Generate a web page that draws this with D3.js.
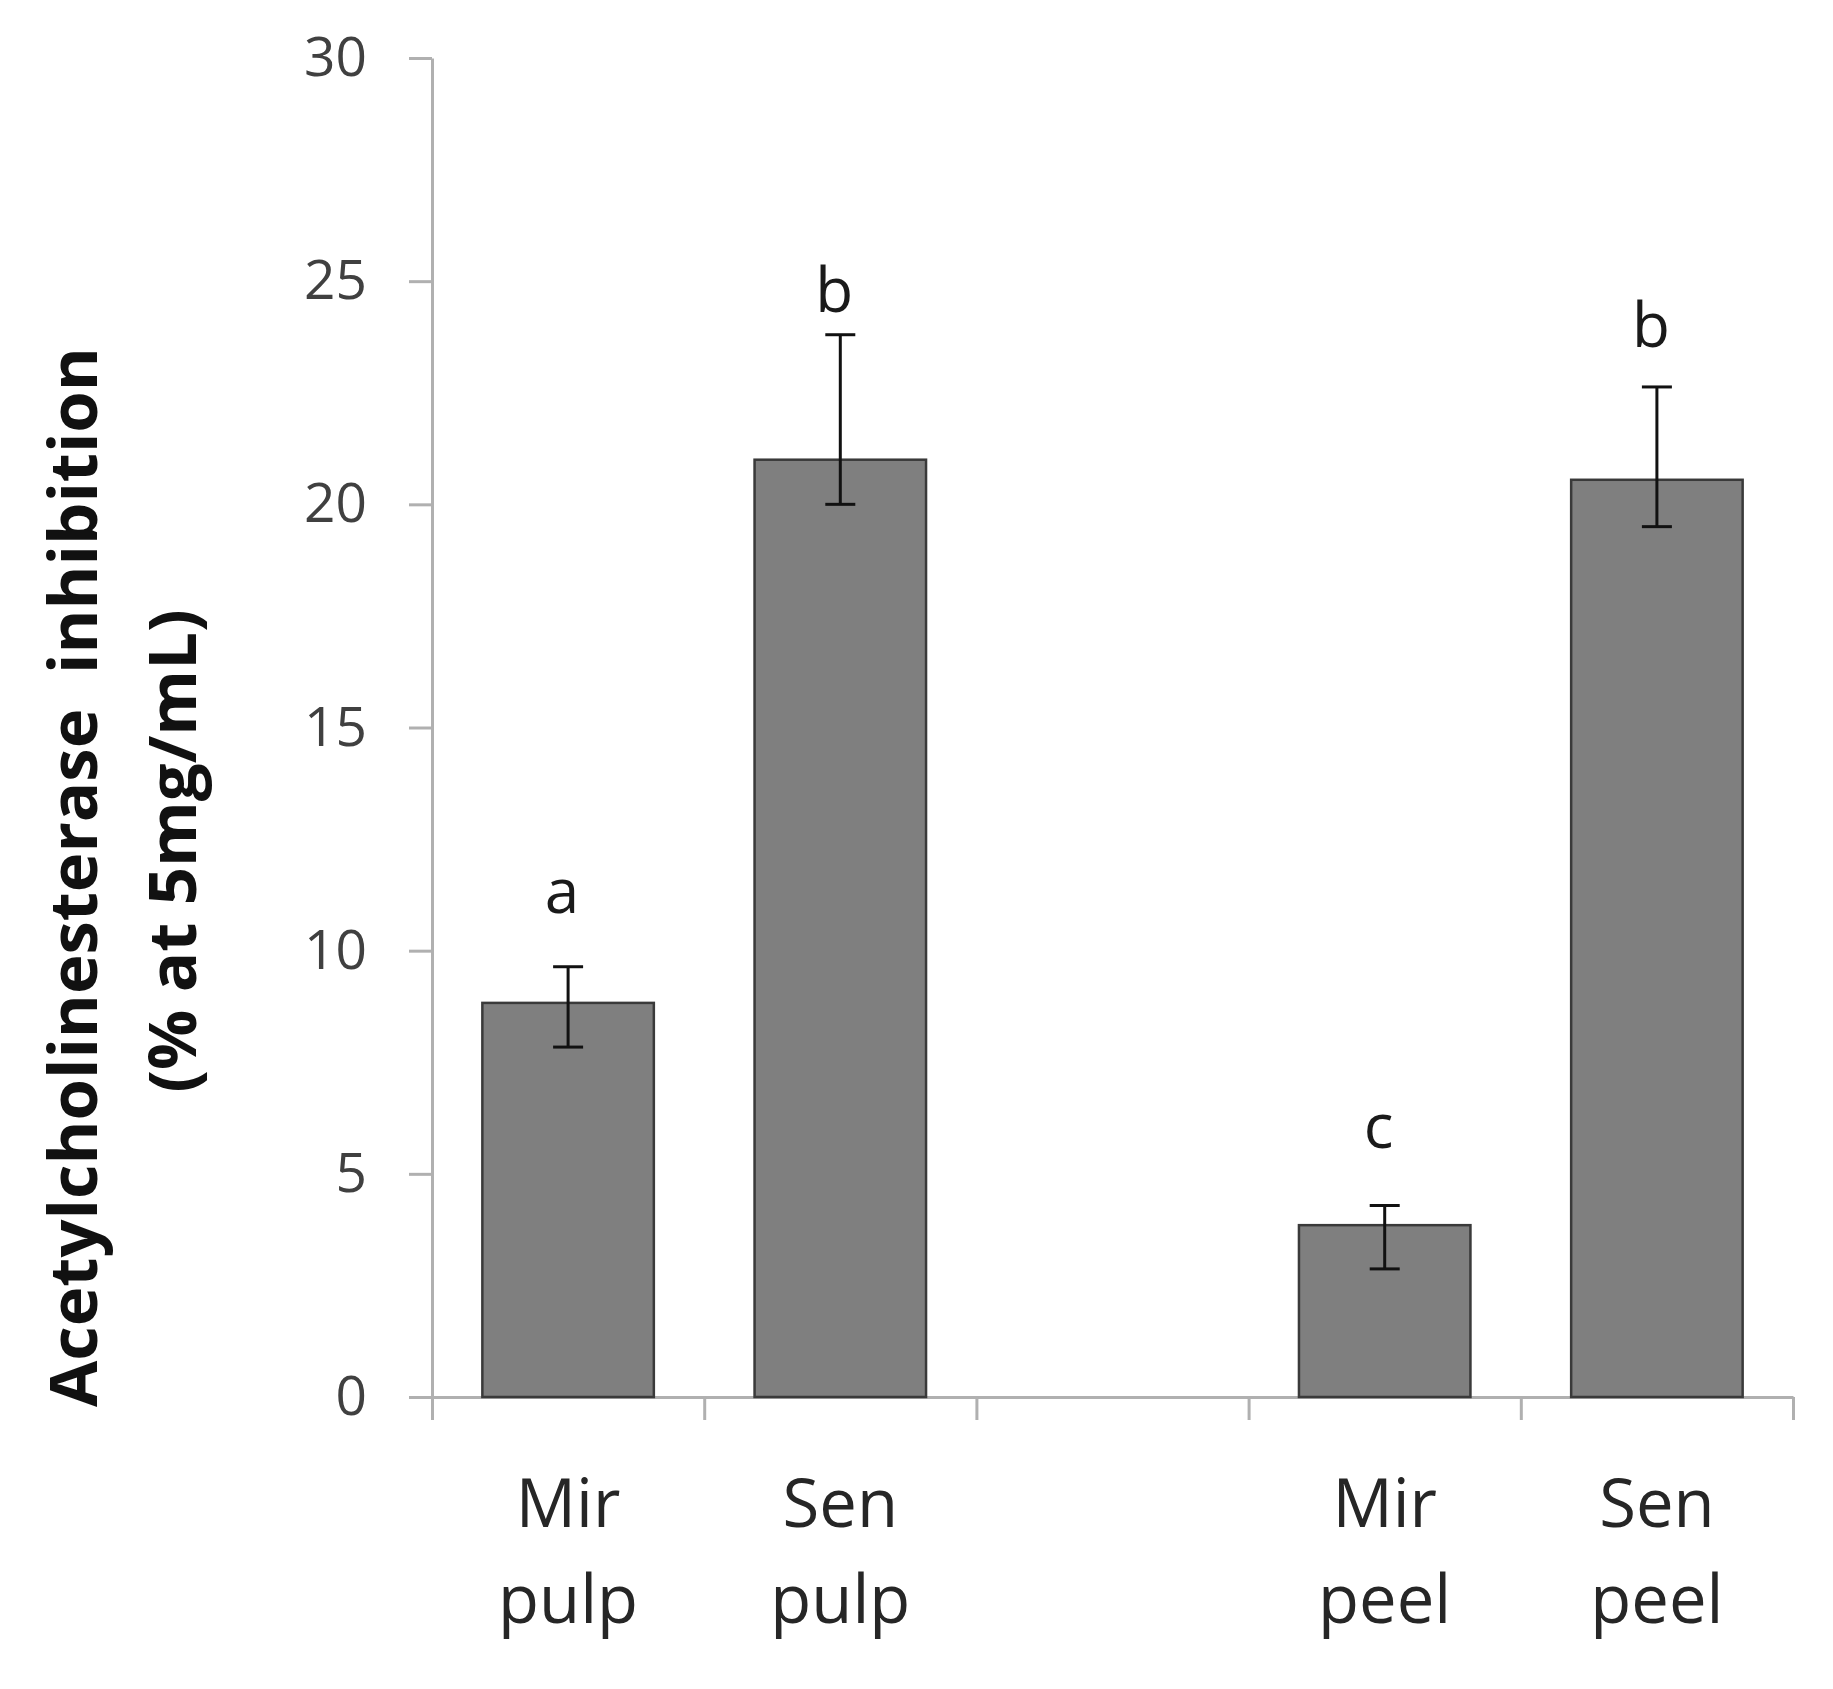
<!DOCTYPE html>
<meta charset="utf-8">
<style>

body {
  margin: 0;
  background: #fff;
}

svg {
  font-family: "Open Sans", sans-serif;
}

.axis path,
.axis line {
  stroke: #b0b0b0;
  stroke-width: 3;
}

.axis text {
  font-family: "Open Sans", sans-serif;
  font-size: 55px;
  fill: #404040;
}

.bar {
  fill: #7f7f7f;
  stroke: #3a3a3a;
  stroke-width: 2.5;
}

.err line {
  stroke: #111;
  stroke-width: 3;
}

.letter {
  font-size: 62px;
  fill: #1a1a1a;
  text-anchor: middle;
}

.cat {
  font-size: 67px;
  fill: #262626;
  text-anchor: middle;
}

.ytitle {
  font-size: 67px;
  font-weight: bold;
  fill: #111;
  text-anchor: middle;
  white-space: pre;
}

</style>
<svg width="1833" height="1689"></svg>
<script src="https://d3js.org/d3.v7.min.js"></script>
<script>

// values (third slot is an empty gap in the original)
var categories = ["Mir pulp", "Sen pulp", "", "Mir peel", "Sen peel"];
var values     = [8.83, 21.0, null, 3.85, 20.55];
var errUp      = [0.81, 2.8, null, 0.44, 2.08];
var errDown    = [0.99, 1.0, null, 0.98, 1.05];
var letters    = ["a", "b", "", "c", "b"];
var letterAt   = [10.85, 24.3, null, 5.58, 23.53];
var yTicks     = [0, 5, 10, 15, 20, 25, 30];

var svg = d3.select("svg"),
    plotLeft = 432, plotRight = 1793,
    plotTop = 58, plotBottom = 1397;

var y = d3.scaleLinear()
    .domain([0, 30])
    .range([plotBottom, plotTop]);

var x = d3.scaleBand()
    .domain(d3.range(categories.length))
    .range([plotLeft, plotRight])
    .paddingInner(0.37)
    .paddingOuter(0.185);

// category boundaries for the x tick marks
var xEdge = d3.scaleLinear()
    .domain([0, categories.length])
    .range([plotLeft, plotRight]);

svg.append("g")
    .attr("class", "axis")
    .attr("transform", "translate(" + plotLeft + ",0)")
    .call(d3.axisLeft(y).tickValues(yTicks).tickSize(23).tickPadding(42).tickSizeOuter(0));

svg.append("g")
    .attr("class", "axis")
    .attr("transform", "translate(0," + plotBottom + ")")
    .call(d3.axisBottom(xEdge).tickValues(d3.range(categories.length + 1)).tickSize(23).tickSizeOuter(0).tickFormat(""));

var data = categories.map(function(c, i) {
  return {i: i, name: c, value: values[i], up: errUp[i], down: errDown[i], letter: letters[i], letterAt: letterAt[i]};
}).filter(function(d) { return d.value != null; });

svg.append("g")
  .selectAll("rect")
  .data(data)
  .enter().append("rect")
    .attr("class", "bar")
    .attr("x", function(d) { return x(d.i); })
    .attr("width", x.bandwidth())
    .attr("y", function(d) { return y(d.value); })
    .attr("height", function(d) { return plotBottom - y(d.value); });

var err = svg.append("g")
    .attr("class", "err")
  .selectAll("g")
  .data(data)
  .enter().append("g")
    .attr("transform", function(d) { return "translate(" + (x(d.i) + x.bandwidth() / 2) + ",0)"; });

err.append("line")
    .attr("y1", function(d) { return y(d.value + d.up); })
    .attr("y2", function(d) { return y(d.value - d.down); });

err.append("line")
    .attr("x1", -15).attr("x2", 15)
    .attr("y1", function(d) { return y(d.value + d.up); })
    .attr("y2", function(d) { return y(d.value + d.up); });

err.append("line")
    .attr("x1", -15).attr("x2", 15)
    .attr("y1", function(d) { return y(d.value - d.down); })
    .attr("y2", function(d) { return y(d.value - d.down); });

svg.append("g")
  .selectAll("text")
  .data(data)
  .enter().append("text")
    .attr("class", "letter")
    .attr("x", function(d) { return x(d.i) + x.bandwidth() / 2 - 6; })
    .attr("y", function(d) { return y(d.letterAt); })
    .text(function(d) { return d.letter; });

var cat = svg.append("g")
  .selectAll("text")
  .data(data)
  .enter().append("text")
    .attr("class", "cat")
    .attr("transform", function(d) { return "translate(" + (x(d.i) + x.bandwidth() / 2) + ",1527)"; });

cat.append("tspan")
    .attr("x", 0)
    .text(function(d) { return d.name.split(" ")[0]; });

cat.append("tspan")
    .attr("x", 0)
    .attr("dy", 96)
    .text(function(d) { return d.name.split(" ")[1]; });

svg.append("text")
    .attr("class", "ytitle")
    .attr("transform", "translate(97,877) rotate(-90)")
    .text("Acetylcholinesterase  inhibition");

svg.append("text")
    .attr("class", "ytitle")
    .attr("transform", "translate(196,851) rotate(-90)")
    .text("(% at 5mg/mL)");

</script>
